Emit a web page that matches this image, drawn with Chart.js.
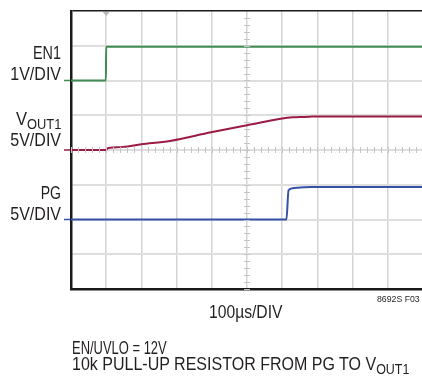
<!DOCTYPE html>
<html>
<head>
<meta charset="utf-8">
<script src="https://cdn.jsdelivr.net/npm/chart.js@4.4.1/dist/chart.umd.min.js"></script>
<style>
  html, body { margin: 0; padding: 0; background: #fff; overflow: hidden; }
  #wrap { position: relative; width: 422px; height: 383px; overflow: hidden; }
  #scope { position: absolute; left: 0; top: 0; }
  .lbl {
    position: absolute;
    font-family: "Liberation Sans", Arial, sans-serif;
    font-size: 18px;
    line-height: 21px;
    color: #231f20;
    white-space: nowrap;
    transform-origin: left top;
  }
  .right { right: 361px; text-align: right; transform-origin: right top; }
  sub { font-size: 14px; vertical-align: -4px; line-height: 0; }
</style>
</head>
<body>
<div id="wrap">
  <canvas id="scope" width="424" height="383"></canvas>

  <div class="lbl right" style="top:43px; transform:scaleX(0.8);">EN1</div>
  <div class="lbl right" style="top:64px; transform:scaleX(0.89);">1V/DIV</div>
  <div class="lbl right" style="top:109px; transform:scaleX(0.92);">V<sub>OUT1</sub></div>
  <div class="lbl right" style="top:130px; transform:scaleX(0.89);">5V/DIV</div>
  <div class="lbl right" style="top:183px; transform:scaleX(0.78);">PG</div>
  <div class="lbl right" style="top:204px; transform:scaleX(0.89);">5V/DIV</div>

  <div class="lbl" style="top:302px; left:209px; transform:scaleX(0.87);">100µs/DIV</div>
  <div class="lbl" style="top:294px; left:377px; font-size:9px; line-height:10px; transform:scaleX(0.97);">8692S F03</div>

  <div class="lbl" style="top:338px; left:72px; transform:scaleX(0.72);">EN/UVLO = 12V</div>
  <div class="lbl" style="top:354px; left:72px; transform:scaleX(0.89);">10k PULL-UP RESISTOR FROM PG TO V<sub>OUT1</sub></div>
</div>

<script>
// Time base: 100us per division, 10 divisions
const timeMin = 0;
const timeMax = 1000;

// EN1 trace (1V/DIV), zero level at division 6
const enTime  = [0, 99, 100, 1000];
const enVolts = [0, 0, 0.97, 0.97];

// VOUT1 trace (5V/DIV), zero level at division 4
const voutTime  = [0, 100, 104, 112, 148, 200, 281, 398, 500, 600, 630, 651, 680, 707, 1000];
const voutVolts = [0, 0, 0.25, 0.33, 0.45, 0.82, 1.3, 2.55, 3.55, 4.52, 4.70, 4.76, 4.80, 4.82, 4.82];

// PG trace (5V/DIV), zero level at division 2
const pgTime  = [0, 612, 618, 630, 650, 680, 1000];
const pgVolts = [0, 0, 4.2, 4.5, 4.62, 4.67, 4.68];

const colors = {
    en: '#3f8c52',
    vout: '#9c1b43',
    pg: '#3552a6',
    grid: '#d3d3d3',
    gridH: '#dedede',
    frame: '#1a1a1a'
};

function toPoints(xs, ys) {
    return xs.map((x, i) => ({ x: x, y: ys[i] }));
}

// Minor ticks on the centre cross, ground markers and trigger marker
const scopeDecor = {
    id: 'scopeDecor',
    afterDatasetsDraw(chart) {
        const ctx = chart.ctx;
        const xs = chart.scales.x;
        const gs = chart.scales.grid;
        const cx = xs.getPixelForValue(500);
        const cy = gs.getPixelForValue(4);
        ctx.save();
        ctx.strokeStyle = '#c4c4c4';
        ctx.lineWidth = 1;
        ctx.beginPath();
        for (let d = 0; d <= 8; d += 0.2) {
            const y = Math.round(gs.getPixelForValue(d)) + 0.5;
            ctx.moveTo(cx - 3, y);
            ctx.lineTo(cx + 3, y);
        }
        for (let t = 0; t <= 1000; t += 20) {
            const x = Math.round(xs.getPixelForValue(t)) + 0.5;
            ctx.moveTo(x, cy - 3);
            ctx.lineTo(x, cy + 3);
        }
        ctx.stroke();

        // ground level markers left of the frame
        const marks = [['yEN', colors.en], ['yV', colors.vout], ['yPG', colors.pg]];
        marks.forEach(([id, col]) => {
            const y = chart.scales[id].getPixelForValue(0);
            ctx.strokeStyle = col;
            ctx.lineWidth = 1.5;
            ctx.beginPath();
            ctx.moveTo(chart.chartArea.left - 7, y);
            ctx.lineTo(chart.chartArea.left - 1, y);
            ctx.stroke();
        });

        // trigger marker
        const tx = xs.getPixelForValue(100);
        const top = chart.chartArea.top;
        ctx.fillStyle = '#b8b8b8';
        ctx.beginPath();
        ctx.moveTo(tx - 3.5, top + 1);
        ctx.lineTo(tx + 3.5, top + 1);
        ctx.lineTo(tx, top + 5);
        ctx.closePath();
        ctx.fill();
        ctx.restore();
    }
};

const ctx = document.getElementById('scope').getContext('2d');

new Chart(ctx, {
    type: 'line',
    data: {
        datasets: [
            { label: 'EN1', data: toPoints(enTime, enVolts), yAxisID: 'yEN', borderColor: colors.en },
            { label: 'VOUT1', data: toPoints(voutTime, voutVolts), yAxisID: 'yV', borderColor: colors.vout },
            { label: 'PG', data: toPoints(pgTime, pgVolts), yAxisID: 'yPG', borderColor: colors.pg }
        ]
    },
    options: {
        responsive: false,
        animation: false,
        events: [],
        layout: { padding: { left: 71, top: 11, right: 1, bottom: 94 } },
        elements: {
            line: { borderWidth: 2, tension: 0.3, cubicInterpolationMode: 'monotone' },
            point: { radius: 0 }
        },
        plugins: {
            legend: { display: false },
            tooltip: { enabled: false }
        },
        scales: {
            x: {
                type: 'linear',
                min: timeMin,
                max: timeMax,
                ticks: { display: false, stepSize: 100 },
                grid: { color: colors.grid, lineWidth: 1.5, drawTicks: false },
                border: { color: colors.frame, width: 2.5 }
            },
            grid: {
                type: 'linear',
                position: 'left',
                min: 0,
                max: 8,
                ticks: { display: false, stepSize: 1 },
                grid: {
                    drawTicks: false,
                    color: c => c.tick.value === 8 ? colors.frame : colors.gridH,
                    lineWidth: c => c.tick.value === 8 ? 1.5 : 2
                },
                border: { color: colors.frame, width: 2.5 }
            },
            yEN: { display: false, min: -6, max: 2 },
            yV: { display: false, min: -20, max: 20 },
            yPG: { display: false, min: -10, max: 30 }
        }
    },
    plugins: [scopeDecor]
});
</script>
</body>
</html>
